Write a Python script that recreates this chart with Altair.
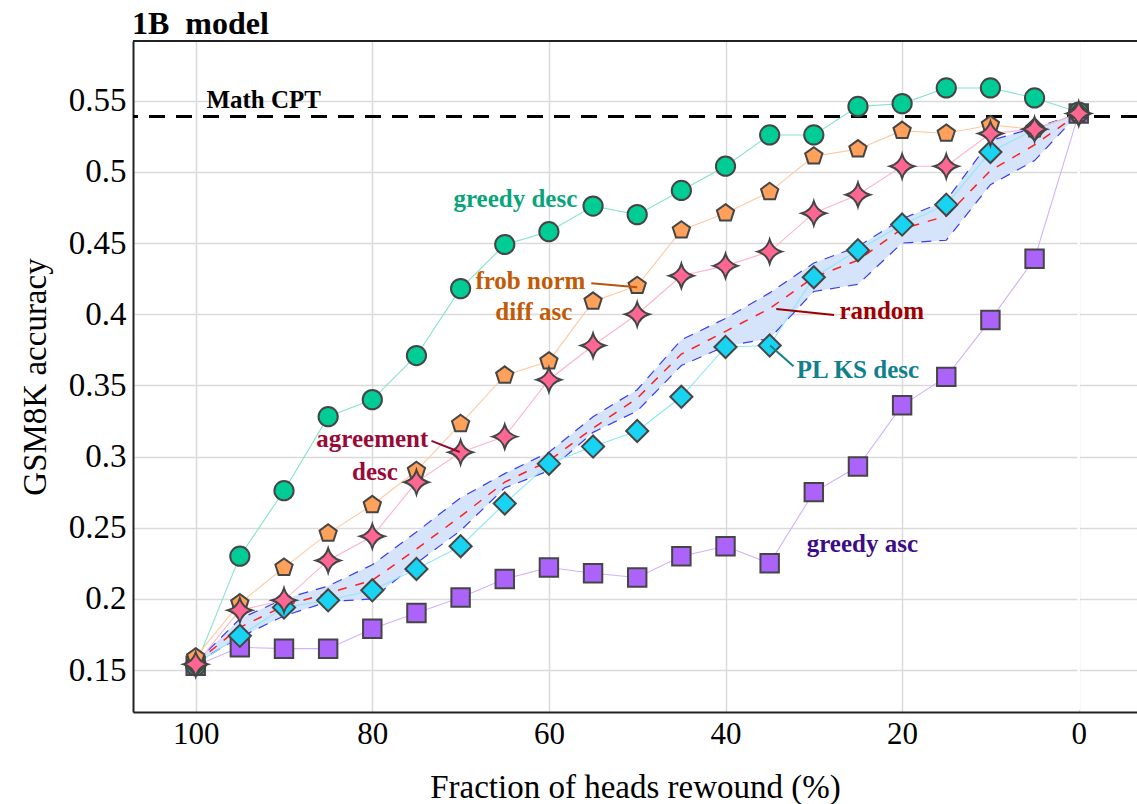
import altair as alt
import pandas as pd

# ---------------- data ----------------
x_pct = [100, 95, 90, 85, 80, 75, 70, 65, 60, 55, 50, 45, 40, 35, 30, 25, 20, 15, 10, 5, 0]

greedy_desc = [0.153, 0.230, 0.276, 0.328, 0.340, 0.371, 0.418, 0.449, 0.458, 0.476, 0.470,
               0.487, 0.504, 0.526, 0.526, 0.546, 0.548, 0.559, 0.559, 0.552, 0.542]
greedy_asc = [0.153, 0.166, 0.165, 0.165, 0.179, 0.190, 0.201, 0.214, 0.222, 0.218, 0.215,
              0.230, 0.237, 0.225, 0.275, 0.293, 0.336, 0.356, 0.396, 0.439, 0.541]
plks_desc = [0.154, 0.174, 0.194, 0.199, 0.206, 0.221, 0.237, 0.267, 0.295, 0.307, 0.318,
             0.342, 0.377, 0.378, 0.426, 0.445, 0.463, 0.477, 0.514, 0.530, 0.541]
frob_asc = [0.159, 0.197, 0.222, 0.246, 0.266, 0.290, 0.323, 0.357, 0.367, 0.409, 0.420,
            0.459, 0.471, 0.486, 0.511, 0.516, 0.529, 0.527, 0.533, 0.530, 0.541]
agree_desc = [0.154, 0.192, 0.199, 0.227, 0.244, 0.282, 0.303, 0.314, 0.354, 0.378, 0.400,
              0.427, 0.434, 0.444, 0.471, 0.484, 0.504, 0.504, 0.527, 0.530, 0.541]

random_mean = [0.155, 0.180, 0.195, 0.204, 0.213, 0.235, 0.258, 0.282, 0.297, 0.320, 0.341,
               0.372, 0.388, 0.404, 0.426, 0.438, 0.460, 0.469, 0.501, 0.519, 0.541]
random_upper = [0.155, 0.186, 0.200, 0.209, 0.224, 0.247, 0.271, 0.288, 0.303, 0.328, 0.347,
                0.382, 0.397, 0.415, 0.436, 0.4475, 0.467, 0.480, 0.522, 0.531, 0.541]
random_lower = [0.155, 0.173, 0.188, 0.198, 0.200, 0.225, 0.248, 0.278, 0.290, 0.317, 0.332,
                0.364, 0.3775, 0.383, 0.416, 0.421, 0.450, 0.452, 0.491, 0.508, 0.541]

math_cpt = [0.539]

chart_title = "1B\u00a0 model"

label_text = ["Math CPT", "greedy desc", "frob norm", "diff asc", "agreement", "desc",
              "random", "PL KS desc", "greedy asc"]
label_x = [92.3, 63.8, 62.1, 61.7, 80.0, 79.7, 22.3, 25.0, 24.5]
label_y = [0.5448, 0.4756, 0.4175, 0.3961, 0.3065, 0.2834, 0.3969, 0.3555, 0.2332]
label_color = ["#000000", "#08a57b", "#c25a06", "#c25a06", "#9a0a38", "#9a0a38",
               "#a00000", "#10808c", "#3c0d85"]

arrow_x = [55.2, 73.3, 27.7, 32.3]
arrow_y = [0.4217, 0.311, 0.3994, 0.3634]
arrow_x2 = [50.0, 70.1, 34.25, 34.95]
arrow_y2 = [0.419, 0.3032, 0.4036, 0.378]
arrow_color = ["#b5540a", "#8f0a35", "#9a0000", "#10808c"]

# ---------------- layout ----------------
W, H = 1004, 671
FONT = "Liberation Serif"
X_DOM = [-6.6, 107.1]
Y_DOM = [0.1205, 0.592]

xs = alt.Scale(domain=X_DOM, reverse=True, nice=False, zero=False)
ys = alt.Scale(domain=Y_DOM, nice=False, zero=False)

x_axis = alt.Axis(values=[0, 20, 40, 60, 80, 100], labelFont=FONT, labelFontSize=31,
                  labelColor="black", labelPadding=7, ticks=False, domain=True,
                  domainColor="#222222", domainWidth=2, grid=True, gridColor="#dadada",
                  gridWidth=1.5, title="Fraction of heads rewound (%)", titleFont=FONT,
                  titleFontSize=33, titleFontWeight="normal", titleColor="black",
                  titleX=W / 2, titleY=85, titleBaseline="alphabetic", titleAlign="center",
                  labelFlush=False)
y_axis = alt.Axis(values=[0.15, 0.2, 0.25, 0.3, 0.35, 0.4, 0.45, 0.5, 0.55], format=".2~f",
                  labelFont=FONT, labelFontSize=33, labelColor="black", labelPadding=7,
                  ticks=False, domain=True, domainColor="#222222", domainWidth=2, grid=True,
                  gridColor="#dadada", gridWidth=1.5, title="GSM8K accuracy", titleFont=FONT,
                  titleFontSize=33, titleFontWeight="normal", titleColor="black",
                  titleX=-98, titleY=H / 2, titleAngle=-90, titleBaseline="middle",
                  titleAlign="center", labelFlush=False)

rand_df = pd.DataFrame({"x": x_pct, "mean": random_mean, "upper": random_upper,
                        "lower": random_lower})

base_x = alt.X("x:Q", scale=xs, axis=x_axis)

# zero line (white) over grid
zero_line = alt.Chart(pd.DataFrame({"x": [0]})).mark_rule(color="white", strokeWidth=2.5).encode(
    x=alt.X("x:Q", scale=xs, axis=x_axis), y=alt.value(0), y2=alt.value(H - 2))

band = alt.Chart(rand_df).mark_area(color="#d5e4fa", opacity=1).encode(
    x=base_x, y=alt.Y("lower:Q", scale=ys, axis=y_axis), y2="upper:Q")
band_up = alt.Chart(rand_df).mark_line(color="#3b3bf5", strokeDash=[10, 8], strokeWidth=1.2).encode(
    x="x:Q", y="upper:Q")
band_lo = alt.Chart(rand_df).mark_line(color="#3b3bf5", strokeDash=[10, 8], strokeWidth=1.2).encode(
    x="x:Q", y="lower:Q")
band_mean = alt.Chart(rand_df).mark_line(color="#ff2020", strokeDash=[9, 9], strokeWidth=1.5).encode(
    x="x:Q", y="mean:Q")

cpt = alt.Chart(pd.DataFrame({"y": math_cpt})).mark_rule(
    color="black", strokeDash=[16, 11], strokeWidth=3).encode(y=alt.Y("y:Q", scale=ys))

PENTAGON = "M0,-1L0.951,-0.309L0.588,0.809L-0.588,0.809L-0.951,-0.309Z"
STAR = "M0,-1Q0.22,-0.22 1,0Q0.22,0.22 0,1Q-0.22,0.22 -1,0Q-0.22,-0.22 0,-1Z"
DIAMOND = "M0,-1L1,0L0,1L-1,0Z"

series = [
    (greedy_asc, "#ab63fa", "#d3b0fc", "square", 340),
    (greedy_desc, "#00cc96", "#86e3c9", "circle", 370),
    (plks_desc, "#19d3f3", "#8ce8f8", DIAMOND, 490),
    (frob_asc, "#ffa15a", "#ffc9a0", PENTAGON, 330),
    (agree_desc, "#ff6692", "#ffb3c8", STAR, 580),
]

series_layers = []
for vals, col, lcol, shp, sz in series:
    df = pd.DataFrame({"x": x_pct, "y": vals})
    ln = alt.Chart(df).mark_line(color=lcol, strokeWidth=1.1).encode(x="x:Q", y="y:Q")
    series_layers.append(ln)
for vals, col, lcol, shp, sz in series:
    df = pd.DataFrame({"x": x_pct, "y": vals})
    pt = alt.Chart(df).mark_point(shape=shp, size=sz, filled=True, fill=col, stroke="#454545",
                                  strokeWidth=2, fillOpacity=1, strokeOpacity=1, opacity=1).encode(
        x="x:Q", y="y:Q")
    series_layers.append(pt)

arrows = alt.Chart(pd.DataFrame({"x": arrow_x, "y": arrow_y, "x2": arrow_x2, "y2": arrow_y2,
                                 "c": arrow_color})).mark_rule(strokeWidth=2).encode(
    x="x:Q", y="y:Q", x2="x2:Q", y2="y2:Q", color=alt.Color("c:N", scale=None))

labels = alt.Chart(pd.DataFrame({"x": label_x, "y": label_y, "t": label_text,
                                 "c": label_color})).mark_text(
    font=FONT, fontSize=25, fontWeight="bold", align="center", baseline="alphabetic").encode(
    x="x:Q", y="y:Q", text="t:N", color=alt.Color("c:N", scale=None))

title_mark = alt.Chart(pd.DataFrame({"t": [chart_title]})).mark_text(
    font=FONT, fontSize=32, fontWeight="bold", align="left", baseline="alphabetic",
    color="black").encode(x=alt.value(-1), y=alt.value(-7), text="t:N")

top_frame = alt.Chart(pd.DataFrame({"a": [0]})).mark_rule(color="#222222", strokeWidth=2).encode(
    x=alt.value(0), x2=alt.value(W), y=alt.value(0))

chart = alt.layer(
    zero_line, band, band_up, band_lo, band_mean, cpt, *series_layers, arrows, labels,
    top_frame, title_mark
).properties(
    width=W, height=H,
    autosize=alt.AutoSizeParams(type="none"),
    padding={"left": 133, "top": 41, "right": 0, "bottom": 92},
).configure_view(stroke=None).configure(background="white")

chart.save("out.html", embed_options={"renderer": "svg", "actions": False})
